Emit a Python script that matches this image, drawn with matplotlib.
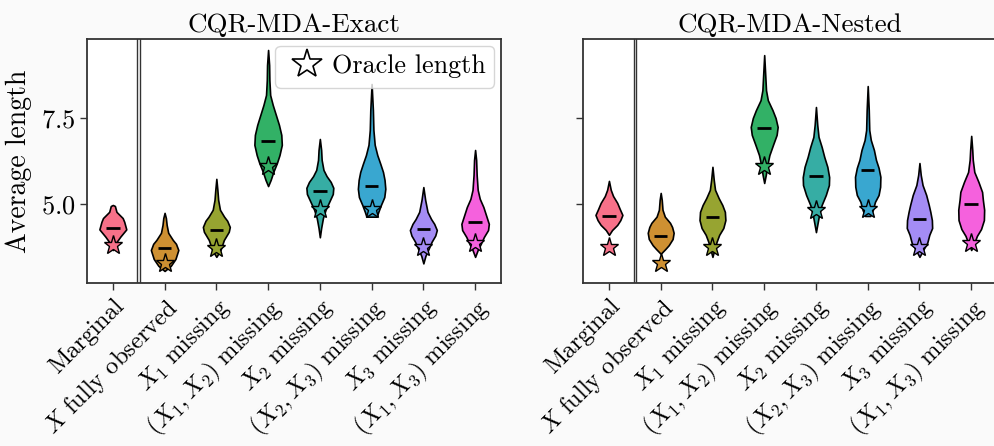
import matplotlib
matplotlib.use("Agg")
import matplotlib.pyplot as plt
from matplotlib.lines import Line2D

plt.rcParams["font.family"] = "serif"
plt.rcParams["font.serif"] = ["cmr10"]
plt.rcParams["mathtext.fontset"] = "cm"
plt.rcParams["axes.formatter.use_mathtext"] = True
plt.rcParams["font.size"] = 19

categories = [
    "Marginal",
    r"$X$ fully observed",
    r"$X_1$ missing",
    r"$(X_1, X_2)$ missing",
    r"$X_2$ missing",
    r"$(X_2, X_3)$ missing",
    r"$X_3$ missing",
    r"$(X_1, X_3)$ missing",
]
colors = ["#f77189", "#ce9032", "#97a431", "#32b166",
          "#36ada4", "#39a7d0", "#a48cf4", "#f561dd"]

# violin outlines: y levels and half widths
exact_levels = [
    [3.66, 3.87, 4.05, 4.26, 4.48, 4.59, 4.77, 4.94, 4.97],
    [3.05, 3.20, 3.40, 3.66, 3.84, 3.95, 4.16, 4.39, 4.59, 4.74],
    [3.46, 3.66, 3.95, 4.19, 4.33, 4.51, 4.63, 4.83, 5.12, 5.41, 5.73],
    [5.52, 5.70, 5.93, 6.19, 6.42, 6.72, 7.01, 7.30, 7.59, 7.88, 8.17, 8.60, 9.04, 9.48],
    [4.03, 4.30, 4.59, 4.83, 5.06, 5.29, 5.47, 5.64, 5.81, 5.99, 6.28, 6.57, 6.89],
    [4.63, 4.77, 4.97, 5.20, 5.44, 5.70, 5.93, 6.16, 6.42, 6.72, 7.15, 7.73, 8.49],
    [3.27, 3.49, 3.69, 3.90, 4.08, 4.24, 4.42, 4.56, 4.77, 5.12, 5.49],
    [3.46, 3.66, 3.84, 4.04, 4.24, 4.42, 4.63, 4.91, 5.15, 5.41, 5.84, 6.28, 6.57],
]
exact_widths = [
    [0, 0.06, 0.145, 0.26, 0.22, 0.19, 0.07, 0.04, 0],
    [0, 0.12, 0.21, 0.265, 0.22, 0.16, 0.07, 0.04, 0.025, 0],
    [0, 0.08, 0.145, 0.24, 0.26, 0.21, 0.15, 0.07, 0.035, 0.02, 0],
    [0, 0.05, 0.10, 0.17, 0.22, 0.265, 0.255, 0.21, 0.15, 0.09, 0.04, 0.025, 0.02, 0],
    [0, 0.025, 0.06, 0.11, 0.18, 0.25, 0.26, 0.21, 0.13, 0.07, 0.035, 0.025, 0],
    [0.10, 0.13, 0.18, 0.245, 0.265, 0.25, 0.22, 0.17, 0.11, 0.06, 0.035, 0.025, 0],
    [0, 0.04, 0.10, 0.16, 0.23, 0.26, 0.21, 0.15, 0.08, 0.035, 0],
    [0, 0.05, 0.11, 0.17, 0.25, 0.265, 0.22, 0.16, 0.09, 0.05, 0.03, 0.02, 0],
]
exact_means = [4.29, 3.73, 4.24, 6.82, 5.37, 5.53, 4.26, 4.47]
exact_oracle = [3.81, 3.28, 3.73, 6.11, 4.85, 4.85, 3.74, 3.86]

nested_levels = [
    [4.10, 4.24, 4.39, 4.53, 4.68, 4.85, 5.03, 5.23, 5.41, 5.67],
    [3.55, 3.69, 3.80, 3.98, 4.16, 4.33, 4.45, 4.63, 4.83, 5.12, 5.32],
    [3.46, 3.66, 3.90, 4.10, 4.30, 4.53, 4.77, 4.97, 5.17, 5.41, 5.70, 6.08],
    [5.61, 5.84, 6.13, 6.42, 6.72, 7.01, 7.24, 7.50, 7.73, 8.02, 8.31, 8.75, 9.33],
    [4.18, 4.39, 4.68, 4.97, 5.26, 5.55, 5.78, 6.08, 6.37, 6.66, 6.95, 7.30, 7.82],
    [4.65, 4.83, 5.06, 5.26, 5.50, 5.79, 6.05, 6.28, 6.57, 6.86, 7.15, 7.73, 8.43],
    [3.46, 3.66, 3.87, 4.10, 4.30, 4.53, 4.77, 4.97, 5.26, 5.55, 5.84, 6.19],
    [3.66, 3.87, 4.07, 4.27, 4.53, 4.83, 5.12, 5.35, 5.64, 5.93, 6.28, 6.57, 6.98],
]
nested_widths = [
    [0, 0.06, 0.16, 0.22, 0.26, 0.21, 0.16, 0.08, 0.035, 0],
    [0, 0.09, 0.155, 0.23, 0.25, 0.22, 0.18, 0.08, 0.035, 0.02, 0],
    [0, 0.035, 0.08, 0.13, 0.21, 0.25, 0.24, 0.19, 0.12, 0.05, 0.025, 0],
    [0, 0.03, 0.06, 0.10, 0.17, 0.24, 0.26, 0.22, 0.16, 0.07, 0.035, 0.02, 0],
    [0, 0.025, 0.06, 0.11, 0.19, 0.25, 0.255, 0.22, 0.16, 0.11, 0.05, 0.025, 0],
    [0.05, 0.10, 0.14, 0.21, 0.24, 0.245, 0.21, 0.16, 0.12, 0.06, 0.03, 0.02, 0],
    [0, 0.07, 0.15, 0.19, 0.245, 0.24, 0.21, 0.18, 0.13, 0.06, 0.025, 0],
    [0, 0.06, 0.11, 0.19, 0.245, 0.25, 0.225, 0.21, 0.14, 0.06, 0.03, 0.02, 0],
]
nested_means = [4.65, 4.06, 4.62, 7.21, 5.82, 5.98, 4.55, 4.99]
nested_oracle = [3.76, 3.29, 3.74, 6.11, 4.81, 4.85, 3.76, 3.87]

panels = [
    ("CQR-MDA-Exact", exact_levels, exact_widths, exact_means, exact_oracle),
    ("CQR-MDA-Nested", nested_levels, nested_widths, nested_means, nested_oracle),
]

fig = plt.figure(figsize=(9.95, 4.46), dpi=100, facecolor="#fafafa")
ax_left = fig.add_axes([0.0874, 0.3655, 0.4161, 0.5471])
ax_right = fig.add_axes([0.586, 0.3655, 0.4161, 0.5471], sharey=ax_left)

positions = list(range(len(categories)))
for ax, (title, levels, widths, means, oracle) in zip([ax_left, ax_right], panels):
    stats = []
    for lv, wd, m in zip(levels, widths, means):
        stats.append({"coords": lv, "vals": wd, "mean": m, "median": m,
                      "min": lv[0], "max": lv[-1], "quantiles": []})
    parts = ax.violin(stats, positions=positions,
                      widths=[2 * max(w) for w in widths],
                      showmeans=False, showmedians=False, showextrema=False)
    for body, c in zip(parts["bodies"], colors):
        body.set_facecolor(c)
        body.set_edgecolor("black")
        body.set_linewidth(1.2)
        body.set_alpha(1)
    for p, m in zip(positions, means):
        ax.hlines(m, p - 0.13, p + 0.13, color="black", lw=2, zorder=3)
    for p, o, c in zip(positions, oracle, colors):
        ax.plot(p, o, marker="*", ms=14, mfc=c, mec="black", mew=1,
                ls="none", zorder=4)
    ax.axvline(0.475, color="#333333", lw=1)
    ax.axvline(0.525, color="#333333", lw=1)
    ax.set_xlim(-0.5, 7.5)
    ax.set_xticks(positions)
    ax.set_xticklabels(categories, rotation=45, ha="right",
                       rotation_mode="anchor", fontsize=17.6)
    ax.set_title(title, fontsize=19.5, pad=5)
    for s in ax.spines.values():
        s.set_color("#333333")
        s.set_linewidth(1.3)
    ax.tick_params(length=5, width=1, color="#333333")

ax_left.set_ylim(2.7, 9.8)
ax_left.set_yticks([5.0, 7.5])
ax_left.set_ylabel("Average length", fontsize=20, labelpad=6)
ax_right.tick_params(labelleft=False)

handle = Line2D([], [], marker="*", ms=22, mfc="white", mec="black",
                mew=1.2, ls="none")
ax_left.legend([handle], ["Oracle length"], loc="upper right",
               borderaxespad=0.25, handletextpad=0.1, borderpad=0.35,
               handlelength=1.7, fontsize=18.8)

fig.savefig("out.png", dpi=100, facecolor=fig.get_facecolor())
